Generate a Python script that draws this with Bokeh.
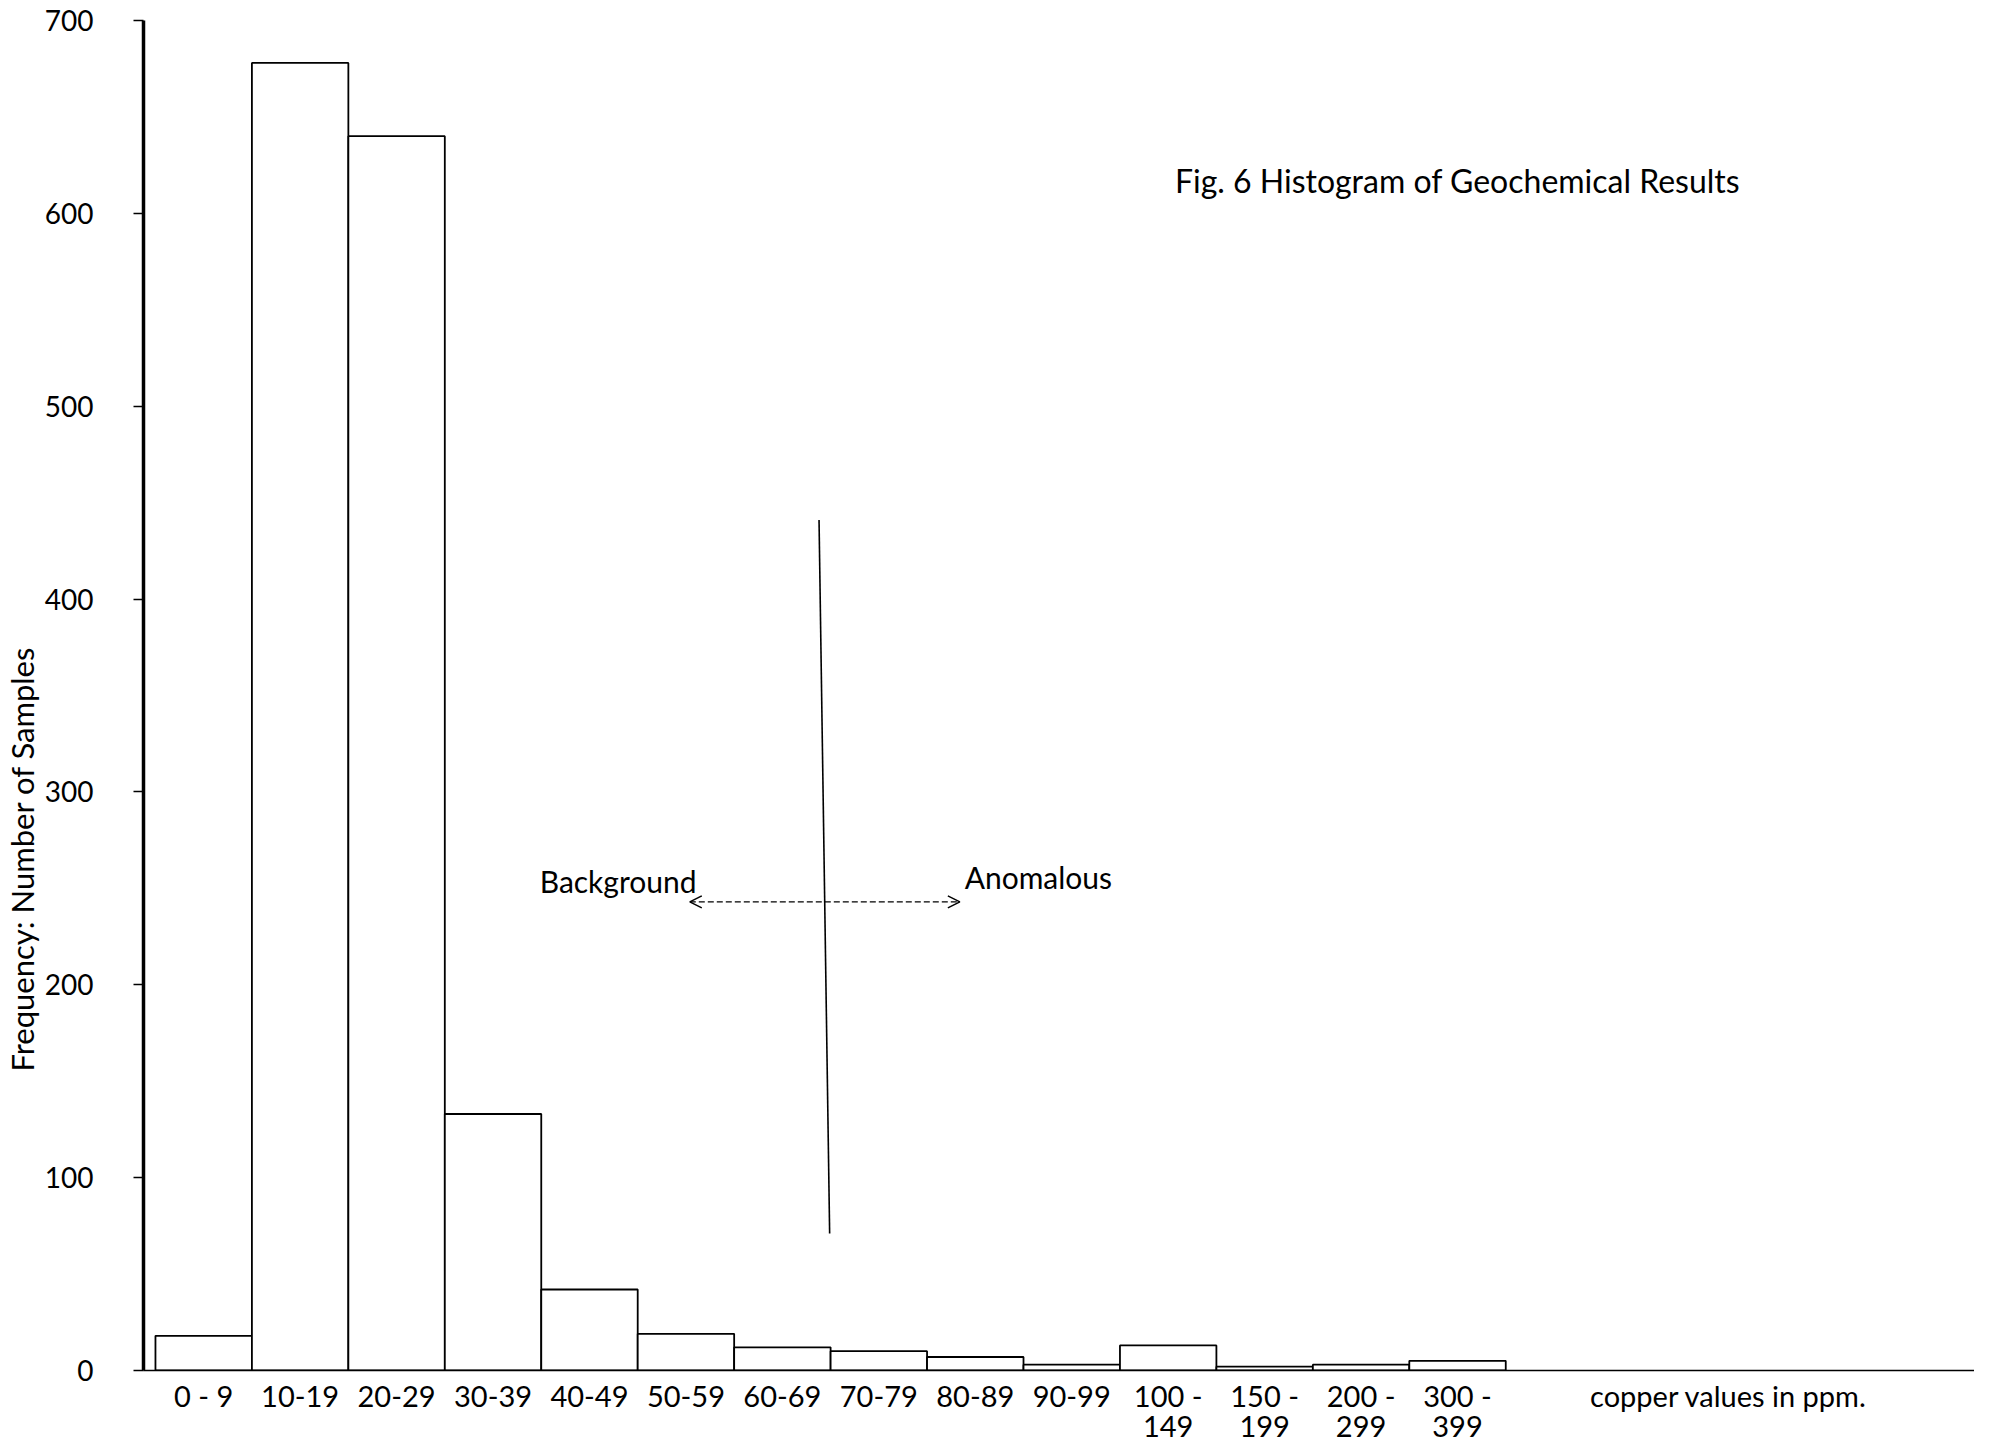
from bokeh.plotting import figure
from bokeh.models import Range1d, FixedTicker, Arrow, OpenHead, Label, Title
from bokeh.embed import file_html
from bokeh.resources import INLINE

# ---- data ----
bin_labels = ["0 - 9", "10-19", "20-29", "30-39", "40-49", "50-59", "60-69",
              "70-79", "80-89", "90-99", "100 -\n149", "150 -\n199",
              "200 -\n299", "300 -\n399"]
counts = [18, 678, 640, 133, 42, 19, 12, 10, 7, 3, 13, 2, 3, 5]
y_ticks = [0, 100, 200, 300, 400, 500, 600, 700]

title_text = "Fig. 6  Histogram of Geochemical Results"
ylabel_text = "Frequency:  Number of Samples"
xlabel_text = "copper values in ppm."
xlabel_pos = 15.81          # position of the unit caption along the x axis

# threshold separator (between 60-69 and 70-79) and its arrow
sep_x = (6.38, 6.49)
sep_y = (441, 71)
arrow_x = (5.04, 7.84)
arrow_y = 243

FONT = "Lato"
idx = list(range(len(counts)))

p = figure(width=1974, height=1445,
           x_range=Range1d(-0.624, 18.36), y_range=Range1d(0, 700),
           output_backend="svg", toolbar_location=None,
           min_border_left=140, min_border_right=0,
           min_border_top=20, min_border_bottom=67)
p.outline_line_color = None
p.xgrid.visible = False
p.ygrid.visible = False
p.background_fill_color = "white"
p.border_fill_color = "white"

p.vbar(x=idx, width=1, bottom=0, top=counts, fill_color="white",
       line_color="black", line_width=1.8)

# y axis
ya = p.yaxis[0]
ya.ticker = FixedTicker(ticks=y_ticks)
ya.axis_line_width = 3.5
ya.axis_line_color = "black"
ya.major_tick_out = 10
ya.major_tick_in = 0
ya.major_tick_line_width = 1.5
ya.minor_tick_out = 0
ya.minor_tick_in = 0
ya.major_label_standoff = 40
ya.major_label_text_font = FONT
ya.major_label_text_font_size = "28px"
ya.major_label_text_color = "black"

# y axis caption (placed low along the axis, as in the original)
p.add_layout(Title(text=ylabel_text, align="left", offset=299, standoff=1,
                   text_font=FONT, text_font_size="31px",
                   text_font_style="normal", text_color="black"), "left")

# x axis (the unit caption sits on the axis line, right of the bins)
xa = p.xaxis[0]
xa.ticker = FixedTicker(ticks=idx + [xlabel_pos])
overrides = {i: lab for i, lab in zip(idx, bin_labels)}
overrides[xlabel_pos] = xlabel_text
xa.major_label_overrides = overrides
xa.axis_line_width = 1.5
xa.axis_line_color = "black"
xa.major_tick_out = 0
xa.major_tick_in = 0
xa.minor_tick_out = 0
xa.minor_tick_in = 0
xa.major_label_standoff = 7
xa.major_label_text_font = FONT
xa.major_label_text_font_size = "29px"
xa.major_label_text_line_height = 0.87
xa.major_label_text_color = "black"

# threshold line and arrow
p.segment(x0=[sep_x[0]], y0=[sep_y[0]], x1=[sep_x[1]], y1=[sep_y[1]],
          line_color="black", line_width=1.6)
p.add_layout(Arrow(start=OpenHead(size=12, line_width=1.5),
                   end=OpenHead(size=12, line_width=1.5),
                   x_start=arrow_x[0], y_start=arrow_y,
                   x_end=arrow_x[1], y_end=arrow_y,
                   line_color="black", line_width=1.2, line_dash="6 3"))

def lab(x, y, text, align="left", size="30px"):
    p.add_layout(Label(x=x, y=y, text=text, text_align=align,
                       text_baseline="middle",
                       text_font=FONT, text_font_size=size,
                       text_color="black"))

lab(5.11, 254, "Background", align="right")
lab(7.89, 256, "Anomalous")
lab(10.07, 617, title_text, size="32px")

open("out.html", "w").write(file_html(p, INLINE))
